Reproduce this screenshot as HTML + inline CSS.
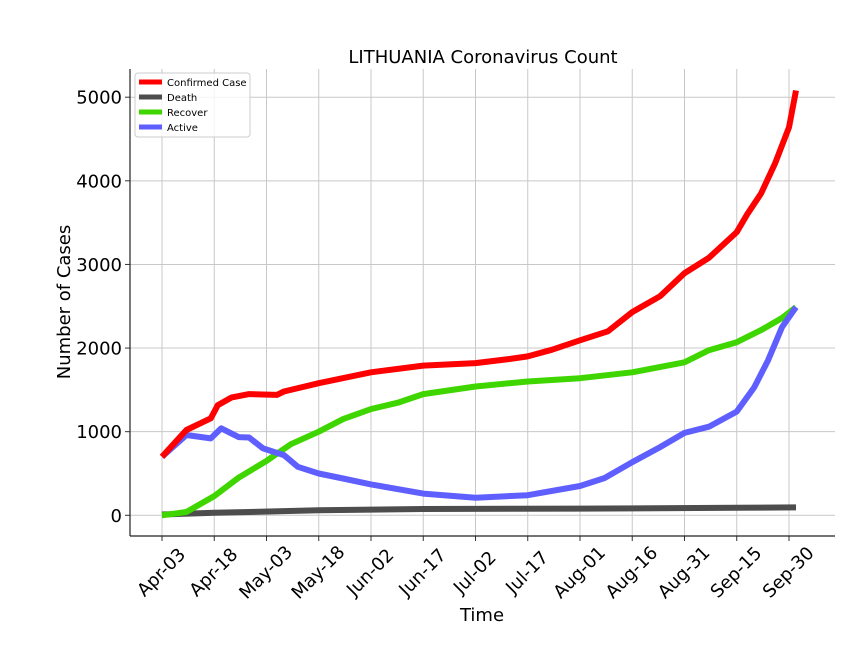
<!DOCTYPE html>
<html><head><meta charset="utf-8"><style>
html,body{margin:0;padding:0;background:#fff;}
svg{display:block;font-family:"DejaVu Sans","Liberation Sans",sans-serif;}
</style></head><body>
<svg id="chart" width="864" height="648" viewBox="0 0 864 648">
<text x="483" y="63" text-anchor="middle" font-size="18">LITHUANIA Coronavirus Count</text>
<g id="grid"></g>
<g id="series"></g>
<g id="axes"></g>
<text x="482" y="621" text-anchor="middle" font-size="18">Time</text>
<text transform="translate(70,302) rotate(-90)" text-anchor="middle" font-size="18">Number of Cases</text>
<g id="legend">
<rect x="135" y="73" width="115" height="64" rx="3" fill="#fff" fill-opacity="0.8" stroke="#ccc"/>
</g>
</svg>
<script>
const xTickLabels=["Apr-03","Apr-18","May-03","May-18","Jun-02","Jun-17","Jul-02","Jul-17","Aug-01","Aug-16","Aug-31","Sep-15","Sep-30"];
const yTicks=[0,1000,2000,3000,4000,5000];
const seriesNames=["Confirmed Case","Death","Recover","Active"];
const seriesColors=["#ff0000","#4d4d4d","#3fd600","#5f5fff"];
// day offsets from Apr-03 and values
const confirmedDays=[0,7,14,16,20,25,33,35,45,60,75,90,100,105,112,120,128,135,143,150,157,165,168,172,176,180,182];
const confirmedVals=[700,1020,1160,1315,1410,1450,1440,1480,1580,1710,1790,1820,1870,1900,1980,2093,2200,2430,2620,2895,3080,3385,3600,3850,4210,4640,5080];
const deathDays=[0,15,45,75,120,165,182];
const deathVals=[10,30,60,75,80,90,95];
const recoverDays=[0,7,15,22,30,37,45,52,60,68,75,90,105,120,135,150,157,165,172,178,182];
const recoverVals=[0,40,230,450,650,850,1000,1150,1270,1350,1450,1540,1600,1640,1710,1830,1975,2070,2215,2360,2490];
const activeDays=[0,7,14,17,22,25,29,35,39,45,52,60,75,90,105,120,127,135,143,150,157,165,170,174,178,182];
const activeVals=[700,960,920,1040,935,930,800,720,580,500,440,370,260,210,240,350,445,635,815,985,1060,1240,1530,1855,2250,2490];

const X0=162, PXD=3.4833, Y0=515.3, PXV=0.08362;
const L=130,R=835,T=69,B=536;
const xs=d=>X0+d*PXD, ys=v=>Y0-v*PXV;
const NS="http://www.w3.org/2000/svg";
function mk(tag,attrs,parent){const e=document.createElementNS(NS,tag);for(const k in attrs)e.setAttribute(k,attrs[k]);parent.appendChild(e);return e;}
const grid=document.getElementById('grid'),axes=document.getElementById('axes'),ser=document.getElementById('series'),leg=document.getElementById('legend');
xTickLabels.forEach((lab,i)=>{const x=xs(i*15);
 const g=mk('line',{x1:x,x2:x,y1:T,y2:B,stroke:'#c8c8c8','stroke-width':1},grid);
 
 
 const t=mk('line',{x1:x,x2:x,y1:B,y2:B+5,stroke:'#333','stroke-width':1},axes);
 
 
 const tx=mk('text',{x:x,y:573,'text-anchor':'middle','dominant-baseline':'middle','font-size':18,transform:`rotate(-45 ${x} 573)`},axes);
 tx.textContent=lab;
 
 
});
yTicks.forEach(v=>{const y=ys(v);
 const g=mk('line',{x1:L,x2:R,y1:y,y2:y,stroke:'#c8c8c8','stroke-width':1},grid);
 
 
 const t=mk('line',{x1:L-5,x2:L,y1:y,y2:y,stroke:'#333','stroke-width':1},axes);
 
 
 const tx=mk('text',{x:L-8,y:y+6.5,'text-anchor':'end','font-size':18},axes);
 tx.textContent=v;
 
 
});
const sp1=mk('line',{x1:L,x2:L,y1:T,y2:B,stroke:'#222','stroke-width':1.2},axes);


const sp2=mk('line',{x1:L,x2:R,y1:B,y2:B,stroke:'#222','stroke-width':1.2},axes);


const data=[[confirmedDays,confirmedVals],[deathDays,deathVals],[recoverDays,recoverVals],[activeDays,activeVals]];
const names=['confirmed-line','death-line','recover-line','active-line'];
[1,2,3,0].forEach(i=>{const [d,v]=data[i];
 const p=mk('polyline',{points:d.map((dd,j)=>xs(dd).toFixed(1)+','+ys(v[j]).toFixed(1)).join(' '),fill:'none',stroke:seriesColors[i],'stroke-width':6,'stroke-linejoin':'round'},ser);
 
 
});
seriesNames.forEach((n,i)=>{const y=82+i*15;
 const l=mk('line',{x1:139,x2:162,y1:y,y2:y,stroke:seriesColors[i],'stroke-width':5},leg);
 
 
 const t=mk('text',{x:167,y:y+4,'font-size':10},leg);
 t.textContent=n;
 
 
});
</script>
</body></html>
